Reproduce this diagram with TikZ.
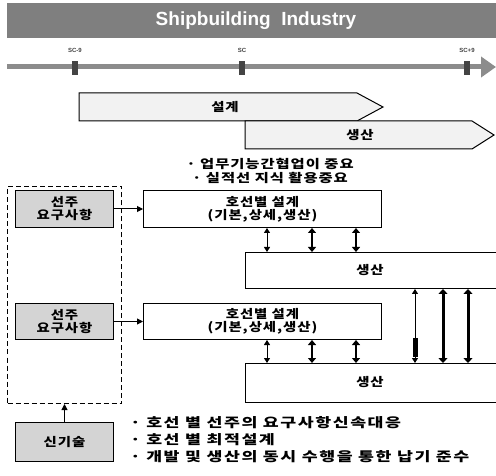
\documentclass[tikz,border=0pt]{standalone}
\usepackage{fontspec}
\setmainfont{Liberation Sans}
\newfontfamily\kr[FakeStretch=1.2, LetterSpace=8]{Noto Sans CJK KR}
\newfontfamily\krb[FakeStretch=1.33, LetterSpace=12]{Noto Sans CJK KR}
\newfontfamily\krn[FakeStretch=1.28, LetterSpace=8]{Noto Sans CJK KR}
\usetikzlibrary{arrows.meta}
\definecolor{titlegray}{HTML}{7F7F7F}
\definecolor{boxgray}{HTML}{D4D4D4}
\definecolor{chevfill}{HTML}{F2F2F2}
\definecolor{linegray}{HTML}{8C8C8C}
\definecolor{tickgray}{HTML}{444444}
\begin{document}
\begin{tikzpicture}[x=1pt,y=-1pt,
  krtext/.style={font=\kr\bfseries\fontsize{12}{14}\selectfont},
  notetext/.style={font=\krn\bfseries\fontsize{12}{14}\selectfont},
  graybox/.style={draw, line width=1pt, fill=boxgray, anchor=north west, align=center, krtext, inner sep=0pt},
  whitebox/.style={draw, line width=1pt, fill=white, anchor=north west, align=center, krtext, inner sep=0pt},
  dashbox/.style={draw, line width=1pt, dash pattern=on 5pt off 3pt, anchor=north west, inner sep=0pt},
  chev/.style={draw, line width=1pt, fill=chevfill},
  tick/.style={fill=tickgray, inner sep=0pt, minimum width=6pt, minimum height=14pt},
  ticklabel/.style={font=\bfseries\fontsize{6}{7}\selectfont, text=tickgray},
  thinarr/.style={line width=1pt, {Triangle[length=5pt,width=6pt]}-{Triangle[length=5pt,width=6pt]}},
  midarr/.style={line width=2.5pt, {Triangle[length=5pt,width=8pt]}-{Triangle[length=5pt,width=8pt]}},
  thickarr/.style={line width=3pt, {Triangle[length=5pt,width=9pt]}-{Triangle[length=5pt,width=9pt]}},
  onearr/.style={line width=1pt, -{Triangle[length=6pt,width=6pt]}},
  bullet/.style={font=\krb\bfseries\fontsize{13}{15}\selectfont, anchor=west, inner sep=0pt}
]
\useasboundingbox (0,0) rectangle (496,476);
\fill[white] (0,0) rectangle (496,476);

% title bar
\node[fill=titlegray, minimum width=490pt, minimum height=35pt, inner sep=0pt, anchor=north west] (title) at (7,3) {};
\node[text=white, font=\bfseries\fontsize{19}{22}\selectfont] (titletext) at (256,21) {Shipbuilding\ \ Industry};

% timeline
\coordinate (tl0) at (7,67);
\coordinate (tl1) at (496,67);
\draw[linegray, line width=5pt, -{Triangle[length=15pt,width=20pt]}] (tl0) -- (tl1);
\node[tick] (t1) at (75,68) {};
\node[tick] (t2) at (242,68) {};
\node[tick] (t3) at (467,68) {};
\node[ticklabel] (l1) at (75,50) {SC-9};
\node[ticklabel] (l2) at (242,50) {SC};
\node[ticklabel] (l3) at (467,50) {SC+9};

% chevrons
\draw[chev] (79,93) -- (357,93) -- (383,107) -- (357,121) -- (79,121) -- cycle;
\node[krtext] (design) at (225,107) {설계};
\draw[chev] (245,121) -- (472,121) -- (494,135) -- (472,149) -- (245,149) -- cycle;
\node[krtext] (prod) at (360,135) {생산};

% notes
\node[notetext] (n1) at (270,164) {· 업무기능간협업이 중요};
\node[notetext] (n2) at (270,178) {· 실적선 지식 활용중요};

% dashed group
\node[dashbox, minimum width=114pt, minimum height=217pt] (group) at (7,186) {};

% row 1
\node[graybox, minimum width=98pt, minimum height=37pt] (own1) at (15,190) {선주\\[-1pt]요구사항};
\node[whitebox, minimum width=238pt, minimum height=37pt] (des1) at (143,190) {호선별 설계\\[-1pt](기본,상세,생산)};
\node[whitebox, minimum width=260pt, minimum height=36pt] (pro1) at (245,252) {};
\node[krtext] (pro1t) at (370,270) {생산};
\draw[onearr] (own1.east) -- (des1.west);

% row 2
\node[graybox, minimum width=98pt, minimum height=36pt] (own2) at (15,303) {선주\\[-1pt]요구사항};
\node[whitebox, minimum width=238pt, minimum height=36pt] (des2) at (143,303) {호선별 설계\\[-1pt](기본,상세,생산)};
\node[whitebox, minimum width=260pt, minimum height=39pt] (pro2) at (245,363) {};
\node[krtext] (pro2t) at (370,382) {생산};
\draw[onearr] (own2.east) -- (des2.west);

% vertical double arrows
\coordinate (xa) at (267,0);
\coordinate (xb) at (312,0);
\coordinate (xc) at (356,0);
\coordinate (xd) at (415,0);
\coordinate (xe) at (443,0);
\coordinate (xf) at (468,0);
\draw[thinarr] (des1.south -| xa) -- (pro1.north -| xa);
\draw[midarr] (des1.south -| xb) -- (pro1.north -| xb);
\draw[midarr] (des1.south -| xc) -- (pro1.north -| xc);
\draw[thinarr] (des2.south -| xa) -- (pro2.north -| xa);
\draw[midarr] (des2.south -| xb) -- (pro2.north -| xb);
\draw[midarr] (des2.south -| xc) -- (pro2.north -| xc);
\draw[thinarr] (pro1.south -| xd) -- (pro2.north -| xd);
\fill (413,338) rectangle (418,357);
\draw[thickarr] (pro1.south -| xe) -- (pro2.north -| xe);
\draw[thickarr] (pro1.south -| xf) -- (pro2.north -| xf);

% new technology
\node[graybox, minimum width=98pt, minimum height=39pt] (tech) at (15,422) {신기술};
\draw[onearr] (tech.north -| group.south) -- (group.south);

\node[bullet] (b1) at (130,423) {· 호선 별 선주의 요구사항신속대응};
\node[bullet] (b2) at (130,440) {· 호선 별 최적설계};
\node[bullet] (b3) at (130,457) {· 개발 및 생산의 동시 수행을 통한 납기 준수};
\end{tikzpicture}
\end{document}
